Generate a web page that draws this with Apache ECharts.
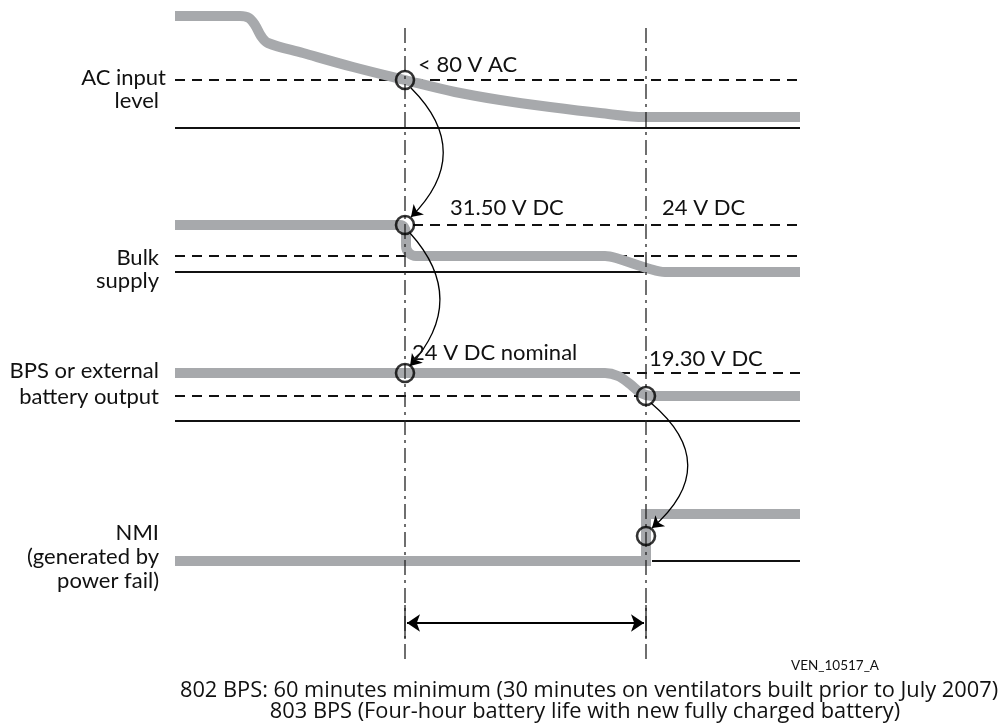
<!DOCTYPE html>
<html>
<head>
<meta charset="utf-8">
<script src="https://cdn.jsdelivr.net/npm/echarts@6/dist/echarts.min.js"></script>
<style>
html,body{margin:0;padding:0;background:#fff;}
#chart{width:1007px;height:728px;}
</style>
</head>
<body>
<div id="chart"></div>
<script>
// ---- data (diagram units: x = time, y = level) ----
const acInputLevel = [[175,16],[240,16],[249,18],[255,25],[261,36],[268,43],[303,53],[353,67],[405,80],[455,92],[500,100],[550,107],[600,113],[645,117],[800,117]];
const bulkSupply   = [[175,225],[400,225],[404,227],[406,233],[406,246],[409,253],[416,256],[605,256],[616,258],[650,269],[665,272],[800,272]];
const bpsOutput    = [[175,373],[605,373],[618,376],[630,384],[641,393],[652,396],[800,396]];
const nmiSignal    = [[175,561],[646,561],[646,514],[800,514]];

const solidRefs  = [[128,175,800],[272,175,800],[421,175,800],[561,652,800]];          // [level, from, to]
const dashedRefs = [[80,175,800],[225,413,800],[256,175,800],[373,620,800],[396,175,800]];
const eventTimes = [405, 646];
const eventSpan  = [28, 660];
const spanSolid  = [605, 638];
const triggerPoints = [[405,80],[405,225],[405,373],[646,396],[646,536]];
const causeArrows = [[[411,88],[411,217],0.5],[[410,233],[410,366],0.45],[[651,403],[652,528],0.58]];
const durationArrow = [[407,623],[644,623]];

const signalLabels = [["AC input","level"],["Bulk","supply"],["BPS or external","battery output"],["NMI","(generated by","power fail)"]];
const thresholdLabels = ["< 80 V AC","31.50 V DC","24 V DC","24 V DC nominal","19.30 V DC"];
const figureId = "VEN_10517_A";
const footnotes = ["802 BPS: 60 minutes minimum (30 minutes on ventilators built prior to July 2007)","803 BPS (Four-hour battery life with new fully charged battery)"];

// ---- chart ----
const FONT = 'Lato';
const GREY = '#a7a9ac';
const series = [];

dashedRefs.forEach(function(d){
  series.push({type:'line', data:[[d[1],d[0]],[d[2],d[0]]], symbol:'none', silent:true, z:2,
    lineStyle:{color:'#111', width:2.2, type:[10,7]}});
});
solidRefs.forEach(function(d){
  series.push({type:'line', data:[[d[1],d[0]],[d[2],d[0]]], symbol:'none', silent:true, z:2,
    lineStyle:{color:'#111', width:2.2}});
});
[acInputLevel, bulkSupply, bpsOutput].forEach(function(s){
  series.push({type:'line', data:s, symbol:'none', smooth:0.35, silent:true, z:3,
    lineStyle:{color:GREY, width:10, cap:'butt', join:'round'}});
});
series.push({type:'line', data:nmiSignal, symbol:'none', silent:true, z:3,
  lineStyle:{color:GREY, width:10, cap:'butt', join:'miter'}});

eventTimes.forEach(function(x){
  series.push({type:'line', data:[[x,eventSpan[0]],[x,eventSpan[1]]], symbol:'none', silent:true, z:4,
    lineStyle:{color:'#222', width:1.3, type:[15,5,3,5]}});
  series.push({type:'line', data:[[x,spanSolid[0]],[x,spanSolid[1]]], symbol:'none', silent:true, z:4,
    lineStyle:{color:'#222', width:1.3}});
});

series.push({type:'scatter', data:triggerPoints, symbol:'circle', symbolSize:18, silent:true, z:6,
  itemStyle:{color:'rgba(0,0,0,0)', borderColor:'#000', borderWidth:2.6}});

series.push({type:'lines', coordinateSystem:'cartesian2d', silent:true, z:5,
  symbol:['none','arrow'], symbolSize:11,
  data: causeArrows.map(function(a){ return {coords:[a[0],a[1]], lineStyle:{curveness:a[2]}}; }),
  lineStyle:{color:'#000', width:1.3, opacity:1}});

series.push({type:'lines', coordinateSystem:'cartesian2d', silent:true, z:5,
  symbol:['arrow','arrow'], symbolSize:[13,13],
  data:[{coords:durationArrow}],
  lineStyle:{color:'#000', width:2.2, opacity:1}});

function txt(t, x, y, align, size, family){
  return {type:'text', x:x, y:y, silent:true, z:10,
    style:{text:t, fill:'#111', fontFamily:family||FONT, fontSize:size||22, align:align||'left', verticalAlign:'middle'}};
}
const graphics = [
  txt(signalLabels[0][0],166,78,'right'), txt(signalLabels[0][1],159,101,'right'),
  txt(signalLabels[1][0],159,258,'right'), txt(signalLabels[1][1],159,281,'right'),
  txt(signalLabels[2][0],159,371,'right'), txt(signalLabels[2][1],159,397,'right'),
  txt(signalLabels[3][0],159,533,'right'), txt(signalLabels[3][1],159,557,'right'), txt(signalLabels[3][2],159,581,'right'),
  txt(thresholdLabels[0],418,65), txt(thresholdLabels[1],450,208), txt(thresholdLabels[2],662,208),
  txt(thresholdLabels[3],412,353), txt(thresholdLabels[4],649,359),
  txt(figureId,835,666,'center',13.5),
  txt(footnotes[0],589,691,'center',21.8,'Open Sans'), txt(footnotes[1],585,712,'center',21.8,'Open Sans')
];

const chart = echarts.init(document.getElementById('chart'), null, {renderer:'canvas'});
chart.setOption({
  animation:false,
  grid:{left:0,right:0,top:0,bottom:0},
  xAxis:{type:'value', min:0, max:1007, show:false},
  yAxis:{type:'value', min:0, max:728, inverse:true, show:false},
  series:series,
  graphic:graphics
});
</script>
</body>
</html>
